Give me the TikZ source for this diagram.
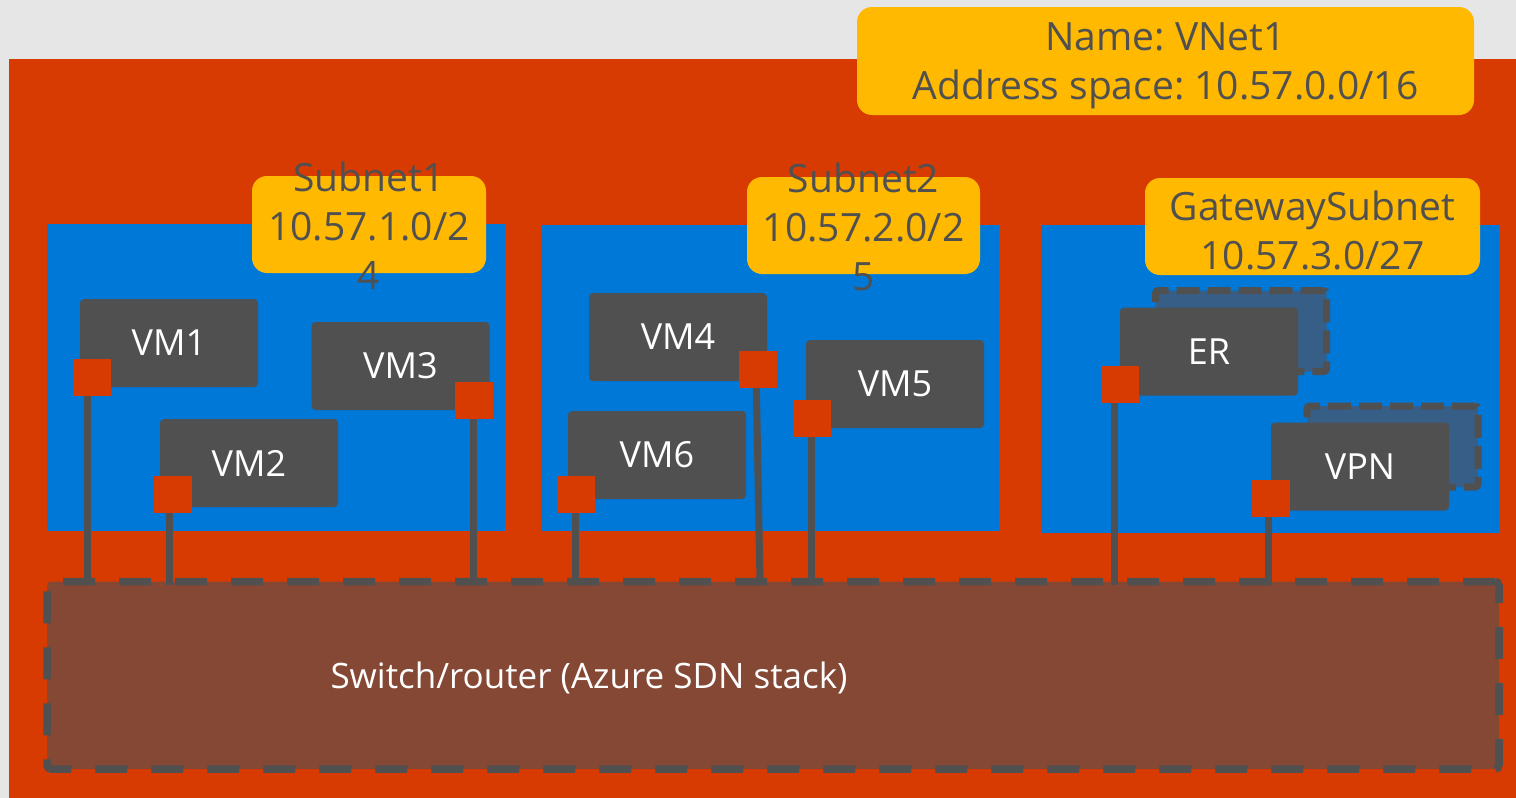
\documentclass[tikz,border=0pt]{standalone}
\usepackage{fontspec}
\setmainfont{Open Sans}
\frenchspacing
\definecolor{bggray}{HTML}{E6E6E6}
\definecolor{azorange}{HTML}{D83B01}
\definecolor{tagyellow}{HTML}{FFB900}
\definecolor{azblue}{HTML}{0078D7}
\definecolor{vmgray}{HTML}{505050}
\definecolor{fabricbrown}{HTML}{854834}
\definecolor{standbyblue}{HTML}{375E87}
\pgfdeclarelayer{links}
\pgfdeclarelayer{ports}
\pgfsetlayers{main,links,ports}
\begin{document}
\begin{tikzpicture}[x=1pt,y=-1pt,
  area/.style={fill=azblue, inner sep=0pt, outer sep=0pt},
  tag/.style={fill=tagyellow, rounded corners=15pt, inner sep=0pt, outer sep=0pt},
  tagtext/.style={text=vmgray, align=center, inner sep=0pt, font=\fontsize{39}{49}\selectfont},
  vm/.style={fill=vmgray, rounded corners=4pt, minimum width=178pt, minimum height=88pt,
    inner sep=0pt, outer sep=0pt, text=white, font=\fontsize{36}{42}\selectfont},
  standby/.style={fill=standbyblue, draw=vmgray, line width=7pt, dash pattern=on 23pt off 8pt,
    rounded corners=3pt, minimum width=171pt, minimum height=81pt, inner sep=0pt, outer sep=0pt},
  nic/.style={fill=azorange, minimum width=38pt, minimum height=37pt, inner sep=0pt, outer sep=0pt},
  wire/.style={draw=vmgray, line width=7pt, shorten >=-3.5pt},
  fabric/.style={fill=fabricbrown, draw=vmgray, line width=7.5pt, dash pattern=on 32pt off 24pt,
    rounded corners=4pt, minimum width=1452pt, minimum height=187.5pt, inner sep=0pt, outer sep=0pt}
]
\useasboundingbox (0,0) rectangle (1516,798);
% canvas and virtual network area
\fill[bggray] (0,0) rectangle (1516,798);
\node[fill=azorange, minimum width=1507pt, minimum height=739pt, inner sep=0pt] (vnet) at (762.5,428.5) {};

% VNet tag
\node[tag, minimum width=617pt, minimum height=108pt] (vnettag) at (1165.5,61) {};
\node[tagtext] (vnettxt) at (1165.5,66) {Name: VNet1\\Address space: 10.57.0.0/16};

% subnets
\node[area, minimum width=458pt, minimum height=307pt] (sub1) at (276,377.5) {};
\node[area, minimum width=458pt, minimum height=306pt] (sub2) at (770,378) {};
\node[area, minimum width=458pt, minimum height=308pt] (gws) at (1270,379) {};

% subnet tags
\node[tag, minimum width=234pt, minimum height=97pt] (sub1tag) at (369,224.5) {};
\node[tagtext] (sub1txt) at (369,226) {Subnet1\\10.57.1.0/2\\4};
\node[tag, minimum width=233pt, minimum height=97pt] (sub2tag) at (863.5,225.5) {};
\node[tagtext] (sub2txt) at (863.5,227) {Subnet2\\10.57.2.0/2\\5};
\node[tag, minimum width=335pt, minimum height=97pt] (gwstag) at (1312.5,226.5) {};
\node[tagtext] (gwstxt) at (1312.5,230) {GatewaySubnet\\10.57.3.0/27};

% standby gateway instances
\node[standby] (ersb) at (1241,331) {};
\node[standby] (vpnsb) at (1392.5,446.5) {};

% virtual machines and gateways
\node[vm] (vm1) at (169,343) {VM1};
\node[vm] (vm3) at (400.5,366) {VM3};
\node[vm] (vm2) at (249,463) {VM2};
\node[vm] (vm4) at (678,337) {VM4};
\node[vm] (vm5) at (895,384) {VM5};
\node[vm] (vm6) at (657,455) {VM6};
\node[vm] (er) at (1209,351.5) {ER};
\node[vm] (vpn) at (1360,466.5) {VPN};

% switch / router
\node[fabric] (sw) at (773,675.25) {};
\node[text=white, inner sep=0pt, font=\fontsize{35}{42}\selectfont] (swtxt) at (589,678) {Switch/router (Azure SDN stack)};

% network interfaces
\begin{pgfonlayer}{ports}
\node[nic] (n1) at (92,377) {};
\node[nic] (n2) at (172.5,494.5) {};
\node[nic] (n3) at (473.5,400.5) {};
\node[nic] (n4) at (757.5,369.5) {};
\node[nic] (n5) at (811.5,418.5) {};
\node[nic] (n6) at (576,494.5) {};
\node[nic] (ner) at (1119.5,384.5) {};
\node[nic] (nvpn) at (1270.5,498.5) {};
\end{pgfonlayer}

% links from each interface to the switch
\begin{pgfonlayer}{links}
\draw[wire] ([xshift=-5pt]n1.center) -- ([xshift=-5pt]n1.center |- sw.north);
\draw[wire] ([xshift=-3.5pt]n2.center) -- ([xshift=-3.5pt]n2.center |- sw.north);
\draw[wire] (n3.center) -- (n3.center |- sw.north);
\draw[wire] ([xshift=-1.5pt]n4.center) -- ([xshift=2.5pt]n4.center |- sw.north);
\draw[wire] (n5.center) -- (n5.center |- sw.north);
\draw[wire] ([xshift=-1pt]n6.center) -- ([xshift=-1pt]n6.center |- sw.north);
\draw[wire] ([xshift=-5.5pt]ner.center) -- ([xshift=-5.5pt]ner.center |- sw.north);
\draw[wire] ([xshift=-2pt]nvpn.center) -- ([xshift=-2pt]nvpn.center |- sw.north);
\end{pgfonlayer}
\end{tikzpicture}
\end{document}
